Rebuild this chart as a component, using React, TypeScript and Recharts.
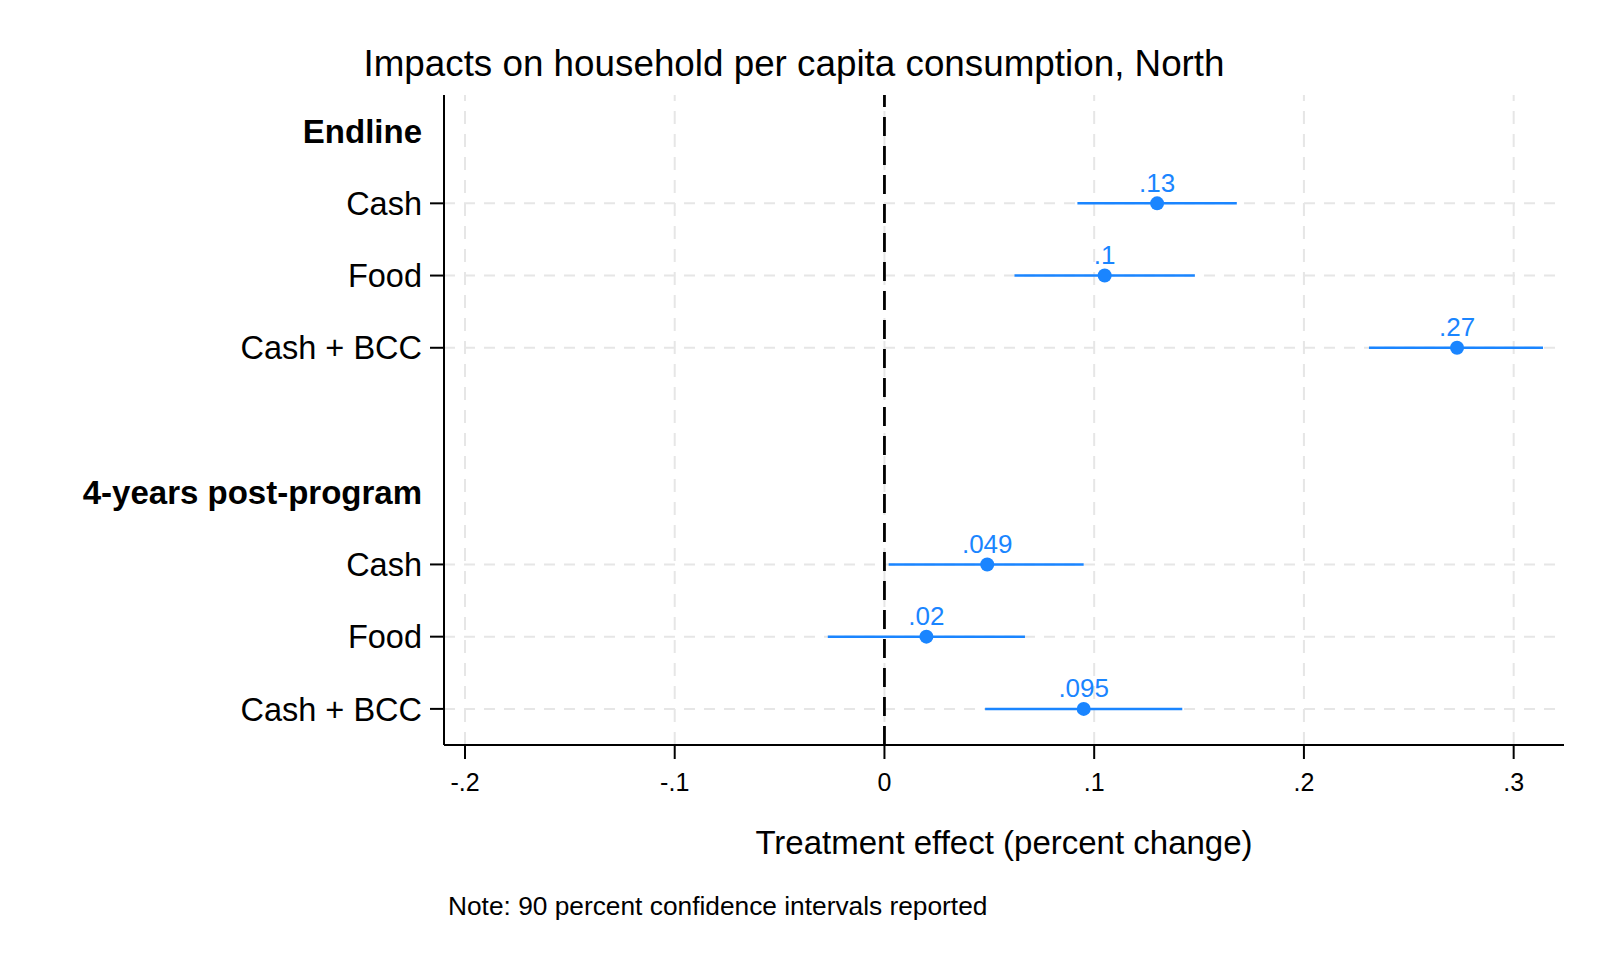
import React from 'react';
import {
  ScatterChart,
  Scatter,
  XAxis,
  YAxis,
  ReferenceLine,
  ErrorBar,
  LabelList,
} from 'recharts';

// rows top to bottom; row 4 is the blank spacer between the two groups
const rowLabels = ['Endline', 'Cash', 'Food', 'Cash + BCC', '', '4-years post-program', 'Cash', 'Food', 'Cash + BCC'];
const headerRows = [0, 5];
const labelRows = [0, 1, 2, 3, 5, 6, 7, 8];

// point estimates and 90% CIs, one per treatment row
const estimateRows = [1, 2, 3, 6, 7, 8];
const estimates = [0.13, 0.105, 0.273, 0.049, 0.02, 0.095];
const ciLow = [0.092, 0.062, 0.231, 0.002, -0.027, 0.048];
const ciHigh = [0.168, 0.148, 0.314, 0.095, 0.067, 0.142];
const estimateLabels = ['.13', '.1', '.27', '.049', '.02', '.095'];

const xTicks = [-0.2, -0.1, 0, 0.1, 0.2, 0.3];
const xTickLabels = ['-.2', '-.1', '0', '.1', '.2', '.3'];

const BLUE = '#1a85ff';
const GRID = '#e6e6e6';
const FONT = '"Liberation Sans", Arial, Helvetica, sans-serif';

const data = estimateRows.map((row, i) => ({
  row,
  est: estimates[i],
  err: [estimates[i] - ciLow[i], ciHigh[i] - estimates[i]],
  label: estimateLabels[i],
}));

function RowTick(props: any) {
  const { x, y, payload } = props;
  const row = payload.value;
  const isHeader = headerRows.includes(row);
  return (
    <g>
      {!isHeader && <line x1={x + 8} x2={x + 22} y1={y} y2={y} stroke="#000" strokeWidth={2} />}
      <text
        x={x}
        y={y}
        dy="0.36em"
        textAnchor="end"
        fontSize={isHeader ? 33 : 32.5}
        fontWeight={isHeader ? 700 : 400}
        fill="#000"
        fontFamily={FONT}
      >
        {rowLabels[row]}
      </text>
    </g>
  );
}

export default function App() {
  return (
    <div style={{ position: 'absolute', left: 0, top: 0, width: 1600, height: 960, background: '#fff', fontFamily: FONT }}>
      <div
        style={{
          position: 'absolute',
          left: 0,
          top: 44,
          width: 1588,
          textAlign: 'center',
          fontSize: 36.8,
          lineHeight: '40px',
          color: '#000',
        }}
      >
        Impacts on household per capita consumption, North
      </div>

      <ScatterChart width={1600} height={960} margin={{ top: 95, right: 36, bottom: 103, left: 0 }}>
        <XAxis
          type="number"
          dataKey="est"
          domain={[-0.21, 0.324]}
          allowDataOverflow
          ticks={xTicks}
          interval={0}
          tickFormatter={(v: number) => xTickLabels[xTicks.indexOf(v)]}
          tickSize={14}
          tickMargin={14}
          tick={{ fontSize: 25, fill: '#000', fontFamily: FONT }}
          tickLine={{ stroke: '#000', strokeWidth: 2 }}
          axisLine={{ stroke: '#000', strokeWidth: 2 }}
          height={112}
          label={{
            value: 'Treatment effect (percent change)',
            position: 'insideBottom',
            offset: 3,
            fontSize: 33,
            fill: '#000',
            fontFamily: FONT,
          }}
        />
        <YAxis
          type="number"
          dataKey="row"
          domain={[-0.5, 8.5]}
          reversed
          allowDataOverflow
          ticks={labelRows}
          interval={0}
          tick={<RowTick />}
          tickLine={false}
          tickSize={14}
          tickMargin={8}
          width={444}
          axisLine={{ stroke: '#000', strokeWidth: 2 }}
        />
        {xTicks.map((t) => (
          <ReferenceLine key={`v${t}`} x={t} stroke={GRID} strokeWidth={2} strokeDasharray="13 10" />
        ))}
        {estimateRows.map((r) => (
          <ReferenceLine key={`h${r}`} y={r} stroke={GRID} strokeWidth={2} strokeDasharray="11 9" />
        ))}
        <ReferenceLine x={0} stroke="#000" strokeWidth={2.8} strokeDasharray="19 10" />
        <Scatter
          data={data}
          fill={BLUE}
          isAnimationActive={false}
          shape={(p: any) => <circle cx={p.cx} cy={p.cy} r={7} fill={BLUE} />}
        >
          <ErrorBar
            dataKey="err"
            direction="x"
            width={0}
            stroke={BLUE}
            strokeWidth={2.5}
            isAnimationActive={false}
          />
          <LabelList dataKey="label" position="top" offset={7} fill={BLUE} fontSize={26} fontFamily={FONT} />
        </Scatter>
      </ScatterChart>

      <div
        style={{
          position: 'absolute',
          left: 448,
          top: 891,
          fontSize: 26.3,
          lineHeight: '30px',
          color: '#000',
          whiteSpace: 'nowrap',
        }}
      >
        Note: 90 percent confidence intervals reported
      </div>
    </div>
  );
}
